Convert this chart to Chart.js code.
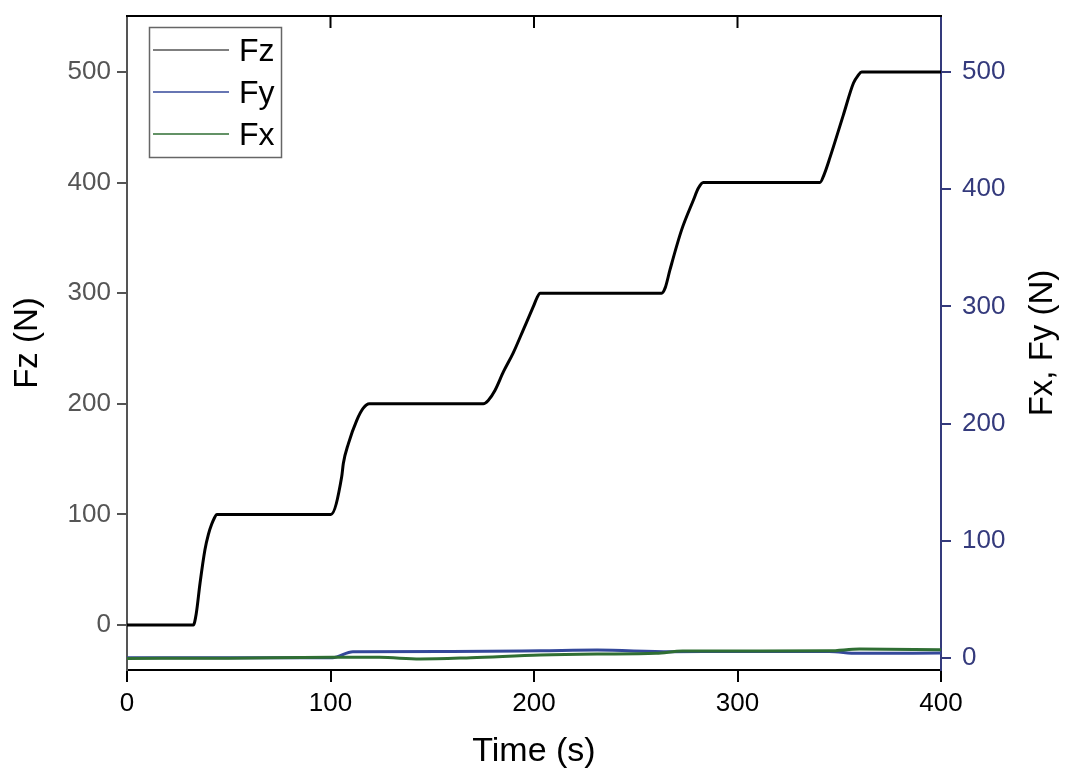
<!DOCTYPE html>
<html><head><meta charset="utf-8">
<script src="https://cdn.jsdelivr.net/npm/chart.js@4.4.0/dist/chart.umd.min.js"></script>
<style>html,body{margin:0;padding:0;background:#fff}#wrap{width:1073px;height:774px}</style>
</head><body><div id="wrap"><canvas id="c" width="1073" height="774"></canvas></div>
<script>
const timeTicks = [0, 100, 200, 300, 400];
const fzTicks = [0, 100, 200, 300, 400, 500];
const fxyTicks = [0, 100, 200, 300, 400, 500];

const fzTime = [0, 32.6, 34, 35.9, 38.3, 40, 41.6, 43, 44.1,
  100.2, 105.5, 106.3, 108.8, 112.9, 116.1, 119.1,
  175.1, 177.5, 180.8, 185, 189.8, 195, 199.7, 201.5, 203,
  262.7, 264.5, 266.8, 272.5, 278.3, 280.8, 283.2,
  340.5, 342.5, 345.5, 352, 357, 359.3, 361, 400];
const fzValues = [0, 0, 10, 38, 68, 82, 91, 97, 100,
  100, 134, 146, 164, 185, 196, 200,
  200, 203, 212, 229, 246, 268, 288, 296, 300,
  300, 305, 321, 357, 384, 395, 400,
  400, 407, 423, 461, 490, 497, 500, 500];

const fyTime = [0, 32, 101, 111, 160, 203, 231, 267, 300, 345, 359, 400];
const fyValues = [0.2, 0.3, 0.3, 5.4, 5.6, 6.2, 6.8, 5.4, 5.6, 5.6, 4.0, 4.3];

const fxTime = [0, 50, 101, 124, 144, 169, 203, 231, 260, 273, 300, 345, 360, 400];
const fxValues = [-0.3, -0.1, 0.6, 0.6, -0.8, 0.3, 2.6, 3.4, 4.0, 6.0, 6.0, 6.2, 7.7, 7.1];

const zip = (xs, ys) => xs.map((x, i) => ({x: x, y: ys[i]}));
const FONT = "'Liberation Sans', Arial, sans-serif";
const NAVY = '#343a7c';
const FY_COLOR = '#34489a';
const FX_COLOR = '#2f6e33';
const setTicks = arr => s => { s.ticks = arr.map(v => ({value: v})); };
const fixSize = (w, h) => s => {
  if (w !== null) s.width = w;
  if (h !== null) s.height = h;
  s.paddingTop = 0; s.paddingBottom = 0; s.paddingLeft = 0; s.paddingRight = 0;
};

const extras = {
  id: 'extras',
  afterDraw(chart) {
    const ctx = chart.ctx, a = chart.chartArea, xs = chart.scales.x;
    ctx.save();
    ctx.strokeStyle = '#000'; ctx.lineWidth = 2;
    ctx.beginPath(); ctx.moveTo(a.left - 1, a.top); ctx.lineTo(a.right + 1, a.top); ctx.stroke();
    [100, 200, 300].forEach(v => {
      const px = xs.getPixelForValue(v);
      ctx.beginPath(); ctx.moveTo(px, a.top); ctx.lineTo(px, a.top + 12); ctx.stroke();
    });
    ctx.fillStyle = '#000'; ctx.font = '33px ' + FONT;
    ctx.textAlign = 'center'; ctx.textBaseline = 'middle';
    ctx.translate(1043, (a.top + a.bottom) / 2); ctx.rotate(-Math.PI / 2);
    ctx.fillText('Fx, Fy (N)', 0, 0);
    ctx.restore();
    ctx.save();
    ctx.fillStyle = '#fff'; ctx.fillRect(149.5, 27.5, 132, 130);
    ctx.strokeStyle = '#666'; ctx.lineWidth = 1.5; ctx.strokeRect(149.5, 27.5, 132, 130);
    const items = [['Fz', '#555'], ['Fy', FY_COLOR], ['Fx', FX_COLOR]];
    const rows = [50, 92, 134];
    ctx.font = '32px ' + FONT; ctx.textAlign = 'left'; ctx.textBaseline = 'middle';
    items.forEach((it, i) => {
      ctx.strokeStyle = it[1]; ctx.lineWidth = 1.4;
      ctx.beginPath(); ctx.moveTo(153, rows[i]); ctx.lineTo(229, rows[i]); ctx.stroke();
      ctx.fillStyle = '#000'; ctx.fillText(it[0], 239, rows[i] + 2);
    });
    ctx.restore();
  }
};

new Chart(document.getElementById('c'), {
  type: 'line',
  data: {
    datasets: [
      {label: 'Fz', data: zip(fzTime, fzValues), yAxisID: 'y', borderColor: '#000', borderWidth: 3,
       pointRadius: 0, cubicInterpolationMode: 'monotone', fill: false},
      {label: 'Fx', data: zip(fxTime, fxValues), yAxisID: 'y1', borderColor: FX_COLOR, borderWidth: 3,
       pointRadius: 0, cubicInterpolationMode: 'monotone', fill: false},
      {label: 'Fy', data: zip(fyTime, fyValues), yAxisID: 'y1', borderColor: FY_COLOR, borderWidth: 3,
       pointRadius: 0, cubicInterpolationMode: 'monotone', fill: false}
    ]
  },
  options: {
    responsive: false, animation: false,
    layout: {padding: {top: 16, left: 0, right: 0, bottom: 0}},
    plugins: {legend: {display: false}, tooltip: {enabled: false}},
    scales: {
      x: {
        type: 'linear', position: 'bottom', min: 0, max: 400,
        afterBuildTicks: setTicks(timeTicks),
        afterFit: fixSize(null, 104),
        ticks: {font: {size: 26, family: FONT}, color: '#000', padding: 6, maxRotation: 0},
        grid: {drawOnChartArea: false, drawTicks: true, tickLength: 12, color: '#000', lineWidth: 2},
        border: {display: true, color: '#000', width: 2},
        title: {display: true, text: 'Time (s)', color: '#000', font: {size: 34, family: FONT}, padding: {top: 0, bottom: 2}}
      },
      y: {
        type: 'linear', position: 'left', min: -40.7, max: 550.6,
        afterBuildTicks: setTicks(fzTicks),
        afterFit: fixSize(127, null),
        ticks: {font: {size: 26, family: FONT}, color: '#555', padding: 6},
        grid: {drawOnChartArea: false, drawTicks: true, tickLength: 10, color: '#555', lineWidth: 2},
        border: {display: true, color: '#555', width: 2},
        title: {display: true, text: 'Fz (N)', color: '#000', font: {size: 33, family: FONT}, padding: {top: 8, bottom: 0}}
      },
      y1: {
        type: 'linear', position: 'right', min: -10.2, max: 547.8,
        afterBuildTicks: setTicks(fxyTicks),
        afterFit: fixSize(132, null),
        ticks: {font: {size: 26, family: FONT}, color: NAVY, padding: 11},
        grid: {drawOnChartArea: false, drawTicks: true, tickLength: 10, color: NAVY, lineWidth: 2},
        border: {display: true, color: NAVY, width: 2},
        title: {display: false}
      }
    }
  },
  plugins: [extras]
});
</script>
</body></html>
